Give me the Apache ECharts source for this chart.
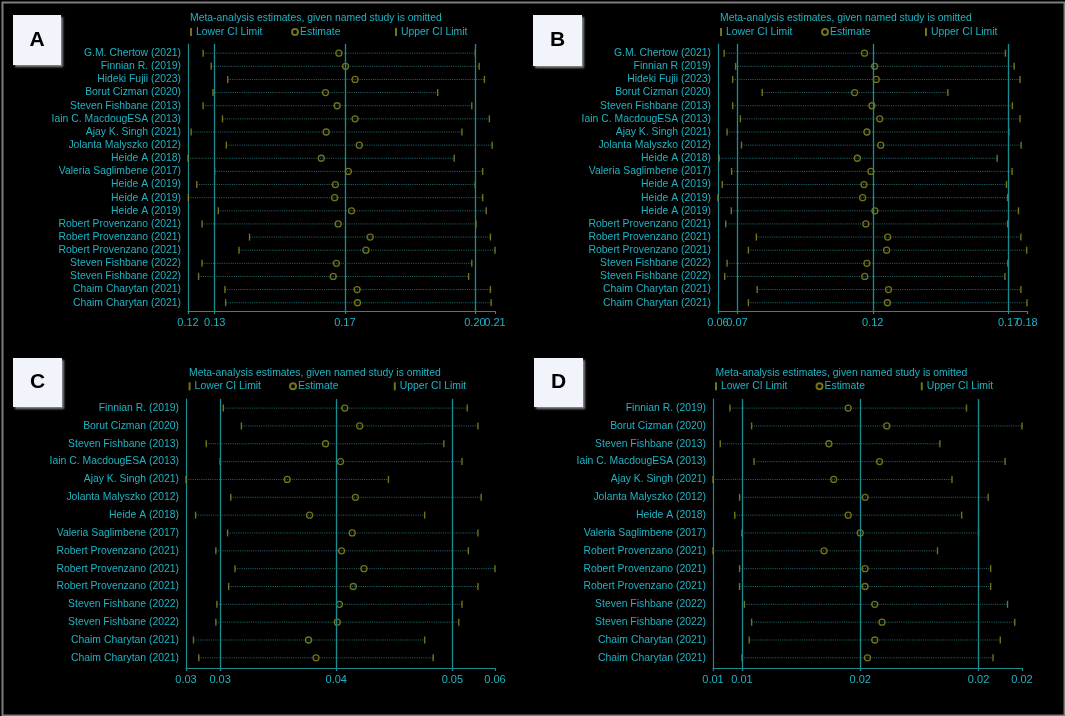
<!DOCTYPE html>
<html>
<head>
<meta charset="utf-8">
<script src="https://cdn.jsdelivr.net/npm/echarts@6/dist/echarts.min.js"></script>
<style>
html,body{margin:0;padding:0;background:#000;}
#chart{width:1065px;height:716px;}
</style>
</head>
<body>
<div id="chart"></div>
<script>
// ---------------- DATA ----------------
const namesA = ["G.M. Chertow (2021)","Finnian R. (2019)","Hideki Fujii (2023)","Borut Cizman (2020)","Steven Fishbane (2013)","Iain C. MacdougESA (2013)","Ajay K. Singh (2021)","Jolanta Malyszko (2012)","Heide A (2018)","Valeria Saglimbene (2017)","Heide A (2019)","Heide A (2019)","Heide A (2019)","Robert Provenzano (2021)","Robert Provenzano (2021)","Robert Provenzano (2021)","Steven Fishbane (2022)","Steven Fishbane (2022)","Chaim Charytan (2021)","Chaim Charytan (2021)"];
const lowerA = [0.1257,0.1280,0.1327,0.1285,0.1257,0.1312,0.1223,0.1323,0.1214,0.1290,0.1239,0.1215,0.1300,0.1254,0.1389,0.1359,0.1254,0.1244,0.1319,0.1321];
const estA   = [0.1643,0.1662,0.1689,0.1605,0.1638,0.1689,0.1607,0.1701,0.1593,0.1670,0.1633,0.1631,0.1679,0.1641,0.1732,0.1720,0.1636,0.1627,0.1695,0.1696];
const upperA = [0.2031,0.2042,0.2057,0.1924,0.2021,0.2071,0.1993,0.2079,0.1971,0.2052,0.2031,0.2052,0.2062,0.2033,0.2074,0.2087,0.2021,0.2012,0.2074,0.2076];
const pooledA = [0.129, 0.166, 0.203];

const namesB = ["G.M. Chertow (2021)","Finnian R (2019)","Hideki Fujii (2023)","Borut Cizman (2020)","Steven Fishbane (2013)","Iain C. MacdougESA (2013)","Ajay K. Singh (2021)","Jolanta Malyszko (2012)","Heide A (2018)","Valeria Saglimbene (2017)","Heide A (2019)","Heide A (2019)","Heide A (2019)","Robert Provenzano (2021)","Robert Provenzano (2021)","Robert Provenzano (2021)","Steven Fishbane (2022)","Steven Fishbane (2022)","Chaim Charytan (2021)","Chaim Charytan (2021)"];
const lowerB = [0.0642,0.0685,0.0674,0.0785,0.0674,0.0703,0.0653,0.0707,0.0623,0.0670,0.0635,0.0619,0.0669,0.0648,0.0763,0.0733,0.0653,0.0644,0.0766,0.0733];
const estB   = [0.1169,0.1207,0.1213,0.1132,0.1197,0.1226,0.1178,0.1230,0.1142,0.1193,0.1167,0.1162,0.1208,0.1174,0.1256,0.1252,0.1178,0.1170,0.1259,0.1255];
const upperB = [0.1698,0.1731,0.1753,0.1482,0.1724,0.1753,0.1711,0.1757,0.1667,0.1723,0.1702,0.1706,0.1747,0.1706,0.1756,0.1778,0.1707,0.1696,0.1756,0.1779];
const pooledB = [0.069, 0.120, 0.171];

const namesC = ["Finnian R. (2019)","Borut Cizman (2020)","Steven Fishbane (2013)","Iain C. MacdougESA (2013)","Ajay K. Singh (2021)","Jolanta Malyszko (2012)","Heide A (2018)","Valeria Saglimbene (2017)","Robert Provenzano (2021)","Robert Provenzano (2021)","Robert Provenzano (2021)","Steven Fishbane (2022)","Steven Fishbane (2022)","Chaim Charytan (2021)","Chaim Charytan (2021)"];
const lowerC = [0.0298,0.0315,0.0282,0.0295,0.0263,0.0305,0.0272,0.0302,0.0291,0.0309,0.0303,0.0292,0.0291,0.0270,0.0275];
const estC   = [0.0412,0.0426,0.0394,0.0408,0.0358,0.0422,0.0379,0.0419,0.0409,0.0430,0.0420,0.0407,0.0405,0.0378,0.0385];
const upperC = [0.0527,0.0537,0.0505,0.0522,0.0453,0.0540,0.0487,0.0537,0.0528,0.0553,0.0537,0.0522,0.0519,0.0487,0.0495];
const pooledC = [0.0295, 0.0404, 0.0513];

const namesD = namesC.slice();
const lowerD = [0.0123,0.0132,0.0119,0.0133,0.0116,0.0127,0.0125,0.0128,0.0116,0.0127,0.0127,0.0129,0.0132,0.0131,0.0128];
const estD   = [0.0172,0.0188,0.0164,0.0185,0.0166,0.0179,0.0172,0.0177,0.0162,0.0179,0.0179,0.0183,0.0186,0.0183,0.0180];
const upperD = [0.0221,0.0244,0.0210,0.0237,0.0215,0.0230,0.0219,0.0226,0.0209,0.0231,0.0231,0.0238,0.0241,0.0235,0.0232];
const pooledD = [0.0128, 0.0177, 0.0226];

const titleText = "Meta-analysis estimates, given named study is omitted";
const legendNames = ["Lower CI Limit", "Estimate", "Upper CI Limit"];

// ---------------- STYLE / LAYOUT ----------------
const FONT = "'Liberation Sans', Arial, sans-serif";
const TXT = '#1fb3c3';
const REF = '#1b8d90';
const MARK = '#8e8e1e';
const DOT = '#226e70';
const FS = 10.4;

const panels = [
  {letter:'A', names:namesA, lower:lowerA, est:estA, upper:upperA, pooled:pooledA,
   grid:{left:188, top:44, width:307, height:267}, ymin:0.3, ymax:20.63,
   titleX:190, titleY:19.3, legY:33.5, legX:[190,291,395], box:[13,15,48,50]},
  {letter:'B', names:namesB, lower:lowerB, est:estB, upper:upperB, pooled:pooledB,
   grid:{left:718, top:44, width:309, height:267}, ymin:0.3, ymax:20.63,
   titleX:720, titleY:19.3, legY:33.5, legX:[720,821,925], box:[533,15,49,51]},
  {letter:'C', names:namesC, lower:lowerC, est:estC, upper:upperC, pooled:pooledC,
   grid:{left:186, top:399, width:309, height:269}, ymin:0.49, ymax:15.57,
   titleX:189, titleY:374.2, legY:387.8, legX:[188.6,289,393.8], box:[13,358,49,49]},
  {letter:'D', names:namesD, lower:lowerD, est:estD, upper:upperD, pooled:pooledD,
   grid:{left:713, top:399, width:309, height:269}, ymin:0.49, ymax:15.57,
   titleX:715.6, titleY:374.2, legY:387.8, legX:[715,815.5,920.8], box:[534,358,49,49]}
];

const option = {
  backgroundColor: '#000',
  animation: false,
  textStyle: {fontFamily: FONT},
  title: [], legend: [], grid: [], xAxis: [], yAxis: [], series: [], graphic: []
};

function xAxisDef(k, xmin, xmax, vals, showLine) {
  return {
    type: 'value', gridIndex: k, min: xmin, max: xmax, position: 'bottom', offset: 0,
    axisLine: {show: showLine, lineStyle: {color: REF, width: 1.2}},
    axisTick: {show: true, length: 3, customValues: vals, lineStyle: {color: REF, width: 1.2}},
    axisLabel: {show: true, customValues: vals, margin: 6, color: TXT, fontSize: FS + 0.6, fontFamily: FONT,
      showMinLabel: true, showMaxLabel: true, hideOverlap: false,
      formatter: v => v.toFixed(2)},
    splitLine: {show: false}
  };
}

panels.forEach((p, k) => {
  const xmin = Math.min.apply(null, p.lower);
  const xmax = Math.max.apply(null, p.upper);
  const rows = p.names.map((_, i) => i + 1);
  const xi = 2 * k;

  option.title.push({
    text: titleText, left: p.titleX, top: p.titleY - 6.5, padding: 0,
    textStyle: {color: TXT, fontSize: FS, fontWeight: 'normal', fontFamily: FONT}
  });

  legendNames.forEach((nm, j) => {
    const isEst = j === 1;
    option.legend.push({
      data: [nm], left: p.legX[j], top: p.legY - 6.5, padding: 0,
      selectedMode: false, itemGap: 0,
      itemWidth: isEst ? 6 : 2, itemHeight: isEst ? 6 : 8,
      textStyle: {color: TXT, fontSize: FS, fontFamily: FONT, padding: [0,0,0, isEst ? -3 : -1]}
    });
  });

  option.grid.push(Object.assign({containLabel: false}, p.grid));

  // pooled-estimate ticks on one axis, the range ends on a twin axis
  option.xAxis.push(xAxisDef(k, xmin, xmax, p.pooled.slice(), true));
  option.xAxis.push(xAxisDef(k, xmin, xmax, [xmin, xmax], false));

  option.yAxis.push({
    type: 'value', gridIndex: k, inverse: true, min: p.ymin, max: p.ymax,
    axisLine: {show: true, lineStyle: {color: REF, width: 1.2}},
    axisTick: {show: false},
    axisLabel: {show: true, customValues: rows, margin: 7, color: TXT, fontSize: FS, fontFamily: FONT,
      formatter: v => p.names[Math.round(v) - 1] || ''},
    splitLine: {show: false}
  });

  option.series.push({
    type: 'custom', name: 'ci' + k, xAxisIndex: xi, yAxisIndex: k, silent: true,
    data: p.lower.map((lo, i) => [lo, p.upper[i], i + 1]),
    encode: {x: [0, 1], y: 2},
    renderItem: function (params, api) {
      const a = api.coord([api.value(0), api.value(2)]);
      const b = api.coord([api.value(1), api.value(2)]);
      return {type: 'line', shape: {x1: a[0], y1: a[1], x2: b[0], y2: b[1]},
        style: {stroke: DOT, lineWidth: 1, lineDash: [1, 1.2]}};
    },
    z: 2
  });

  option.series.push({
    type: 'scatter', name: 'Lower CI Limit', xAxisIndex: xi, yAxisIndex: k, silent: true,
    symbol: 'rect', symbolSize: [1.4, 7],
    itemStyle: {color: MARK},
    data: p.lower.map((v, i) => [v, i + 1]), z: 3
  });
  option.series.push({
    type: 'scatter', name: 'Estimate', xAxisIndex: xi, yAxisIndex: k, silent: true,
    symbol: 'circle', symbolSize: 6,
    itemStyle: {color: 'rgba(0,0,0,0)', borderColor: MARK, borderWidth: 1.3},
    data: p.est.map((v, i) => [v, i + 1]), z: 4,
    markLine: {
      silent: true, symbol: 'none', label: {show: false}, precision: 10,
      lineStyle: {color: REF, width: 1.3, type: 'solid'},
      data: p.pooled.map(v => ({xAxis: v}))
    }
  });
  option.series.push({
    type: 'scatter', name: 'Upper CI Limit', xAxisIndex: xi, yAxisIndex: k, silent: true,
    symbol: 'rect', symbolSize: [1.4, 7],
    itemStyle: {color: MARK},
    data: p.upper.map((v, i) => [v, i + 1]), z: 3
  });

  const bx = p.box;
  option.graphic.push({
    type: 'group', left: bx[0], top: bx[1],
    children: [
      {type: 'rect', shape: {x: 0, y: 0, width: bx[2], height: bx[3]},
       style: {fill: '#f1f4fb', shadowBlur: 2, shadowOffsetX: 1.5, shadowOffsetY: 1.5, shadowColor: 'rgba(150,150,150,0.9)'}},
      {type: 'text', x: bx[2] / 2, y: bx[3] / 2,
       style: {text: p.letter, fill: '#000', font: "bold 21px 'Liberation Sans', Arial, sans-serif", align: 'center', verticalAlign: 'middle'}}
    ]
  });
});

option.graphic.push({
  type: 'rect', left: 0, top: 0, silent: true,
  shape: {x: 1, y: 1, width: 1062, height: 713},
  style: {fill: 'none', stroke: '#7d7d7d', lineWidth: 2}
});

const chart = echarts.init(document.getElementById('chart'));
chart.setOption(option);
</script>
</body>
</html>
